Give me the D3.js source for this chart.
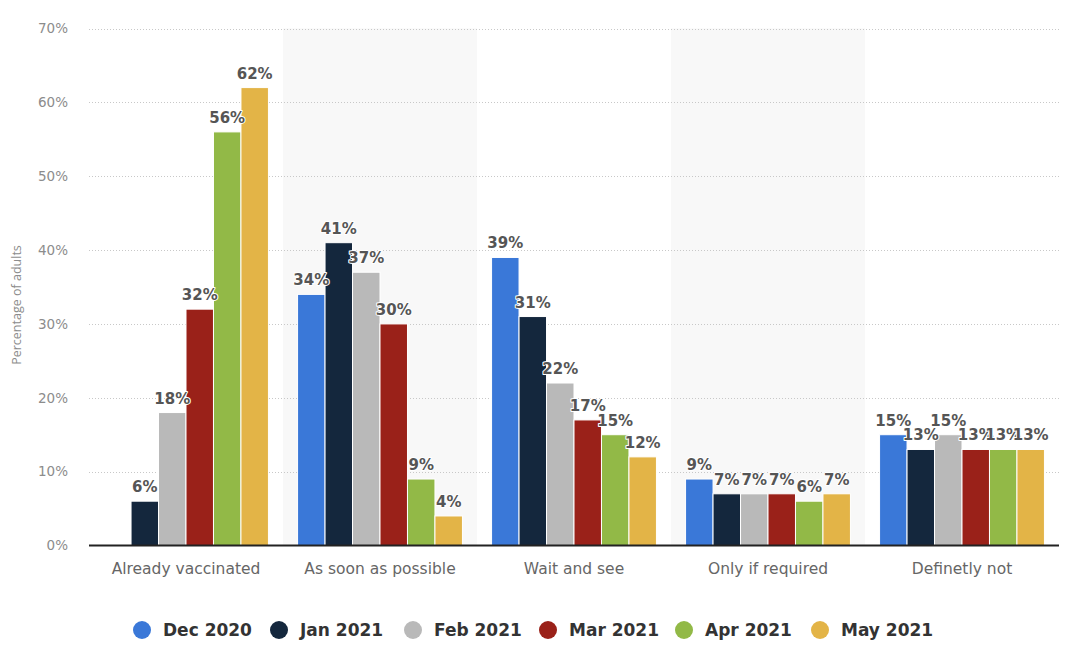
<!DOCTYPE html>
<html>
<head>
<meta charset="utf-8">
<script src="https://cdn.jsdelivr.net/npm/d3@7"></script>
<style>
  body { margin: 0; background: #fff; }
  svg { display: block; }
</style>
</head>
<body>
<script>
const categories = ['Already vaccinated', 'As soon as possible', 'Wait and see', 'Only if required', 'Definetly not'];
const seriesNames = ['Dec 2020', 'Jan 2021', 'Feb 2021', 'Mar 2021', 'Apr 2021', 'May 2021'];
const dec2020 = [null, 34, 39, 9, 15];
const jan2021 = [6, 41, 31, 7, 13];
const feb2021 = [18, 37, 22, 7, 15];
const mar2021 = [32, 30, 17, 7, 13];
const apr2021 = [56, 9, 15, 6, 13];
const may2021 = [62, 4, 12, 7, 13];
const yTicks = [0, 10, 20, 30, 40, 50, 60, 70];
const colors = ['#3a78d8', '#14273d', '#b9b9b9', '#9a2119', '#92b947', '#e3b447'];

const seriesValues = [dec2020, jan2021, feb2021, mar2021, apr2021, may2021];

const width = 1068;
const height = 654;
const margin = { top: 28.5, right: 9, bottom: 108.5, left: 89 };

const svg = d3.select('body').append('svg')
  .attr('width', width)
  .attr('height', height);

const x = d3.scaleBand()
  .domain(categories)
  .range([margin.left, width - margin.right]);

const xInner = d3.scaleBand()
  .domain(seriesNames)
  .range([0, x.bandwidth()])
  .paddingOuter(0.53);

const y = d3.scaleLinear()
  .domain([0, 70])
  .range([height - margin.bottom, margin.top]);

// shaded alternate bands
svg.append('g')
  .selectAll('rect')
  .data(categories.filter((d, i) => i % 2 === 1))
  .enter().append('rect')
  .attr('x', d => x(d))
  .attr('y', y(70))
  .attr('width', x.bandwidth())
  .attr('height', y(0) - y(70))
  .attr('fill', '#f8f8f8');

// gridlines
svg.append('g')
  .selectAll('line')
  .data(yTicks.filter(d => d > 0))
  .enter().append('line')
  .attr('x1', margin.left)
  .attr('x2', width - margin.right)
  .attr('y1', d => Math.round(y(d)) + 0.5)
  .attr('y2', d => Math.round(y(d)) + 0.5)
  .attr('stroke', '#c8c8c8')
  .attr('stroke-width', 1)
  .attr('stroke-dasharray', '1,2');

// y axis labels
const yAxis = d3.axisLeft(y)
  .tickValues(yTicks)
  .tickFormat(d => d + '%')
  .tickSize(0)
  .tickPadding(21);

svg.append('g')
  .attr('transform', `translate(${margin.left},0)`)
  .call(yAxis)
  .call(g => g.select('.domain').remove())
  .call(g => g.selectAll('text')
    .attr('fill', '#8c8c8c')
    .attr('font-family', '"DejaVu Sans", sans-serif')
    .attr('font-size', 13.5));

// y axis title
svg.append('text')
  .attr('transform', 'translate(21,305) rotate(-90)')
  .attr('text-anchor', 'middle')
  .attr('fill', '#8c8c8c')
  .attr('font-family', '"Open Sans", sans-serif')
  .attr('font-size', 12.5)
  .text('Percentage of adults');

// bars
const rows = [];
categories.forEach((c, ci) => {
  seriesNames.forEach((s, si) => {
    const v = seriesValues[si][ci];
    if (v !== null) rows.push({ cat: c, series: s, value: v, color: colors[si] });
  });
});

svg.append('g')
  .selectAll('rect')
  .data(rows)
  .enter().append('rect')
  .attr('x', d => x(d.cat) + xInner(d.series))
  .attr('y', d => y(d.value))
  .attr('width', xInner.bandwidth())
  .attr('height', d => y(0) - y(d.value))
  .attr('fill', d => d.color)
  .attr('stroke', '#fff')
  .attr('stroke-width', 1);

// value labels
svg.append('g')
  .selectAll('text')
  .data(rows)
  .enter().append('text')
  .attr('x', d => x(d.cat) + xInner(d.series) + xInner.bandwidth() / 2)
  .attr('y', d => y(d.value) - 9)
  .attr('text-anchor', 'middle')
  .attr('fill', '#555')
  .attr('font-family', '"DejaVu Sans", sans-serif')
  .attr('font-weight', 'bold')
  .attr('font-size', 15)
  .attr('stroke', '#fff')
  .attr('stroke-width', 2)
  .attr('stroke-linejoin', 'round')
  .attr('paint-order', 'stroke')
  .text(d => d.value + '%');

// baseline
svg.append('line')
  .attr('x1', margin.left)
  .attr('x2', width - margin.right)
  .attr('y1', y(0))
  .attr('y2', y(0))
  .attr('stroke', '#222')
  .attr('stroke-width', 2);

// category labels
const xAxis = d3.axisBottom(x).tickSize(0).tickPadding(17);
svg.append('g')
  .attr('transform', `translate(0,${y(0)})`)
  .call(xAxis)
  .call(g => g.select('.domain').remove())
  .call(g => g.selectAll('text')
    .attr('fill', '#666')
    .attr('font-family', '"DejaVu Sans", sans-serif')
    .attr('font-size', 15.5));

// legend
const legendX = [142, 279, 413, 548, 684, 820];
const legend = svg.append('g')
  .selectAll('g')
  .data(seriesNames)
  .enter().append('g')
  .attr('transform', (d, i) => `translate(${legendX[i]},630)`);

legend.append('circle')
  .attr('r', 9)
  .attr('fill', (d, i) => colors[i]);

legend.append('text')
  .attr('x', 21)
  .attr('y', 6)
  .attr('fill', '#333')
  .attr('font-family', '"DejaVu Sans", sans-serif')
  .attr('font-weight', 'bold')
  .attr('font-size', 17)
  .text(d => d);
</script>
</body>
</html>
